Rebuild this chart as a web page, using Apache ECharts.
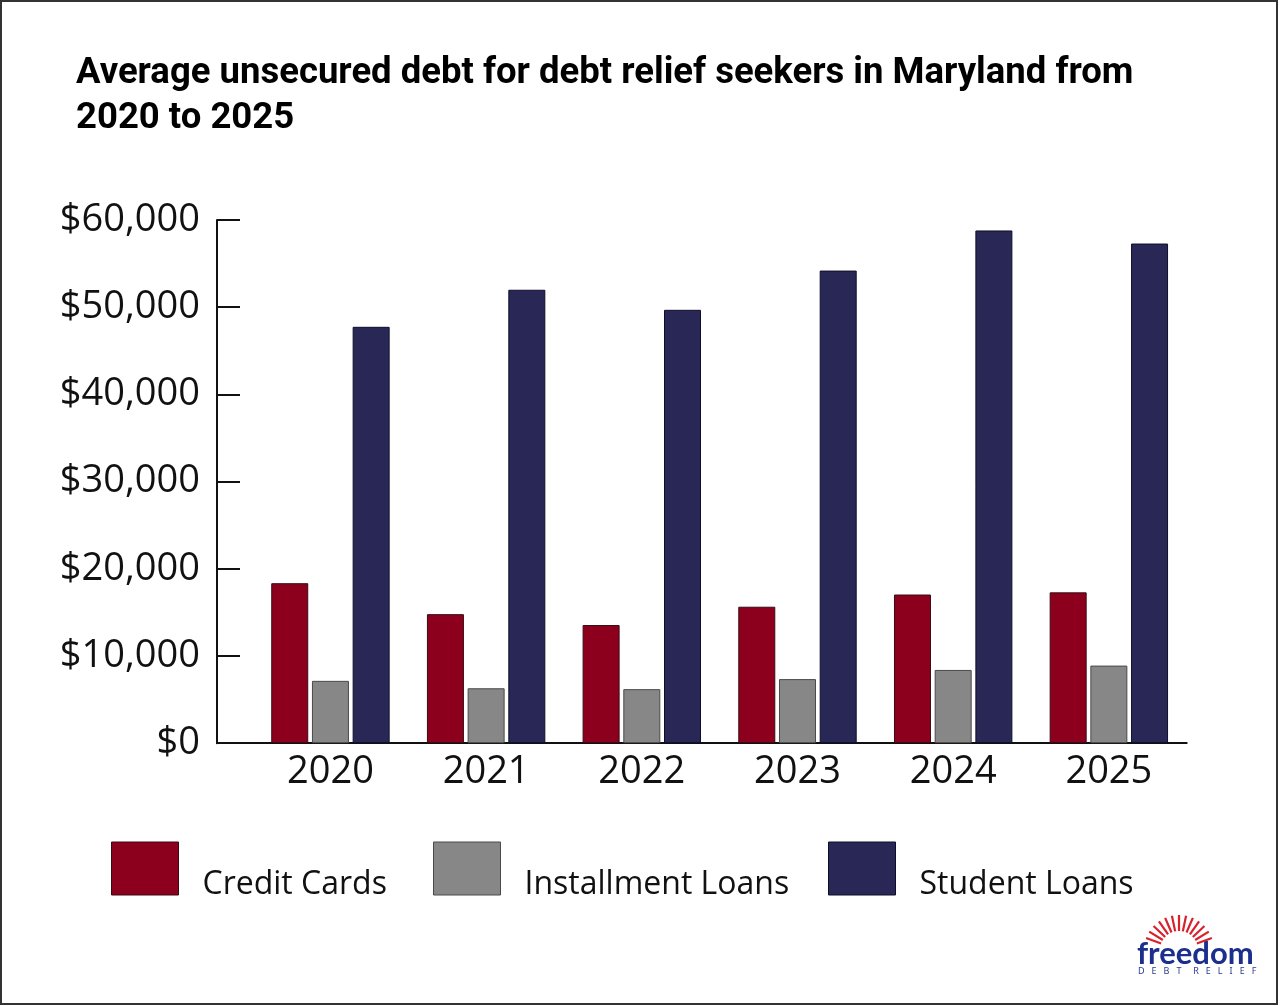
<!DOCTYPE html>
<html>
<head>
<meta charset="utf-8">
<script src="https://cdn.jsdelivr.net/npm/echarts@6/dist/echarts.min.js"></script>
<style>
  html, body { margin: 0; padding: 0; background: #fff; }
  #chart { width: 1280px; height: 1006px; }
</style>
</head>
<body>
<div id="chart"></div>
<script>
var myChart = echarts.init(document.getElementById('chart'));

var years = ['2020', '2021', '2022', '2023', '2024', '2025'];
var creditCards = [18350, 14800, 13550, 15650, 17050, 17300];
var installmentLoans = [7150, 6300, 6200, 7350, 8400, 8900];
var studentLoans = [47750, 52000, 49700, 54200, 58800, 57300];
var seriesNames = ['Credit Cards', 'Installment Loans', 'Student Loans'];
var seriesColors = ['#8c001e', '#878787', '#282756'];
var borderColors = ['#3a0a12', '#4a4a4a', '#0e0e2a'];

// sun rays for the logo (decoration only)
var rays = [];
for (var i = 0; i < 13; i++) {
    var a = (20 + i * 140 / 12) * Math.PI / 180;
    rays.push({
        type: 'line',
        shape: {
            x1: 1179 + Math.cos(a) * 19, y1: 950 - Math.sin(a) * 19,
            x2: 1179 + Math.cos(a) * 35, y2: 950 - Math.sin(a) * 35
        },
        style: { stroke: '#d9212b', lineWidth: 2.2 }
    });
}

function legendFor(idx, left) {
    return {
        data: [seriesNames[idx]],
        left: left,
        top: 836.5,
        padding: 0,
        icon: 'rect',
        itemWidth: 67,
        itemHeight: 53,
        itemStyle: { borderColor: borderColors[idx], borderWidth: 1 },
        // empty first line pushes the name down to the bottom of the swatch
        formatter: function (name) { return '\n' + name; },
        textStyle: {
            fontFamily: 'Open Sans',
            fontSize: 32,
            lineHeight: 32,
            color: '#111',
            padding: [0, 0, 0, 19]
        },
        selectedMode: false
    };
}

function barSeries(idx, data) {
    return {
        name: seriesNames[idx],
        type: 'bar',
        data: data,
        barWidth: 37,
        barGap: '10%',
        itemStyle: {
            color: seriesColors[idx],
            borderColor: borderColors[idx],
            borderWidth: 1
        }
    };
}

var option = {
    backgroundColor: '#ffffff',
    animation: false,
    title: {
        text: 'Average unsecured debt for debt relief seekers in Maryland from\n2020 to 2025',
        left: 76,
        top: 51,
        padding: 0,
        textStyle: {
            fontFamily: 'Roboto',
            fontWeight: 'bold',
            fontSize: 36.5,
            lineHeight: 45,
            color: '#000'
        }
    },
    legend: [legendFor(0, 111), legendFor(1, 433), legendFor(2, 828)],
    grid: [
        { left: 252.6, right: 93.3, top: 220, bottom: 262.8 },
        { left: 217, width: 36, top: 220, bottom: 262.8 }
    ],
    xAxis: [{
        type: 'category',
        data: years,
        gridIndex: 0,
        axisLine: { lineStyle: { color: '#111', width: 2 } },
        axisTick: {
            inside: true,
            length: 12,
            lineStyle: { color: '#111', width: 2 },
            interval: 0
        },
        axisLabel: {
            fontFamily: 'Open Sans',
            fontSize: 38,
            color: '#111',
            margin: 10
        }
    }, {
        type: 'value',
        gridIndex: 1,
        min: 0,
        max: 1,
        axisLine: { show: true, lineStyle: { color: '#111', width: 2 } },
        axisTick: { show: false },
        axisLabel: { show: false },
        splitLine: { show: false }
    }],
    yAxis: [{
        type: 'value',
        gridIndex: 0,
        min: 0,
        max: 60000,
        interval: 10000,
        offset: 35.6,
        axisLine: { show: true, lineStyle: { color: '#111', width: 2 } },
        axisTick: {
            show: true,
            inside: true,
            length: 23,
            lineStyle: { color: '#111', width: 2 }
        },
        splitLine: { show: false },
        axisLabel: {
            fontFamily: 'Open Sans',
            fontSize: 38,
            color: '#111',
            margin: 17,
            formatter: function (v) {
                return '$' + v.toLocaleString('en-US');
            }
        }
    }, {
        type: 'value',
        gridIndex: 1,
        show: false,
        min: 0,
        max: 1
    }],
    series: [
        barSeries(0, creditCards),
        barSeries(1, installmentLoans),
        barSeries(2, studentLoans)
    ],
    graphic: [{
        type: 'rect',
        shape: { x: 1, y: 1, width: 1276, height: 1003 },
        style: { fill: 'none', stroke: '#333', lineWidth: 2 }
    }, {
        type: 'text',
        left: 1137,
        top: 938,
        style: {
            text: 'freedom',
            fontFamily: 'Lato',
            fontWeight: 'bold',
            fontSize: 31,
            fill: '#1c2f8c'
        }
    }, {
        type: 'text',
        left: 1138,
        top: 967,
        style: {
            text: 'D   E   B   T     R   E   L   I   E   F',
            fontFamily: 'Noto Sans',
            fontSize: 9,
            fill: '#2b3b8c'
        }
    }].concat(rays)
};

myChart.setOption(option);
</script>
</body>
</html>
